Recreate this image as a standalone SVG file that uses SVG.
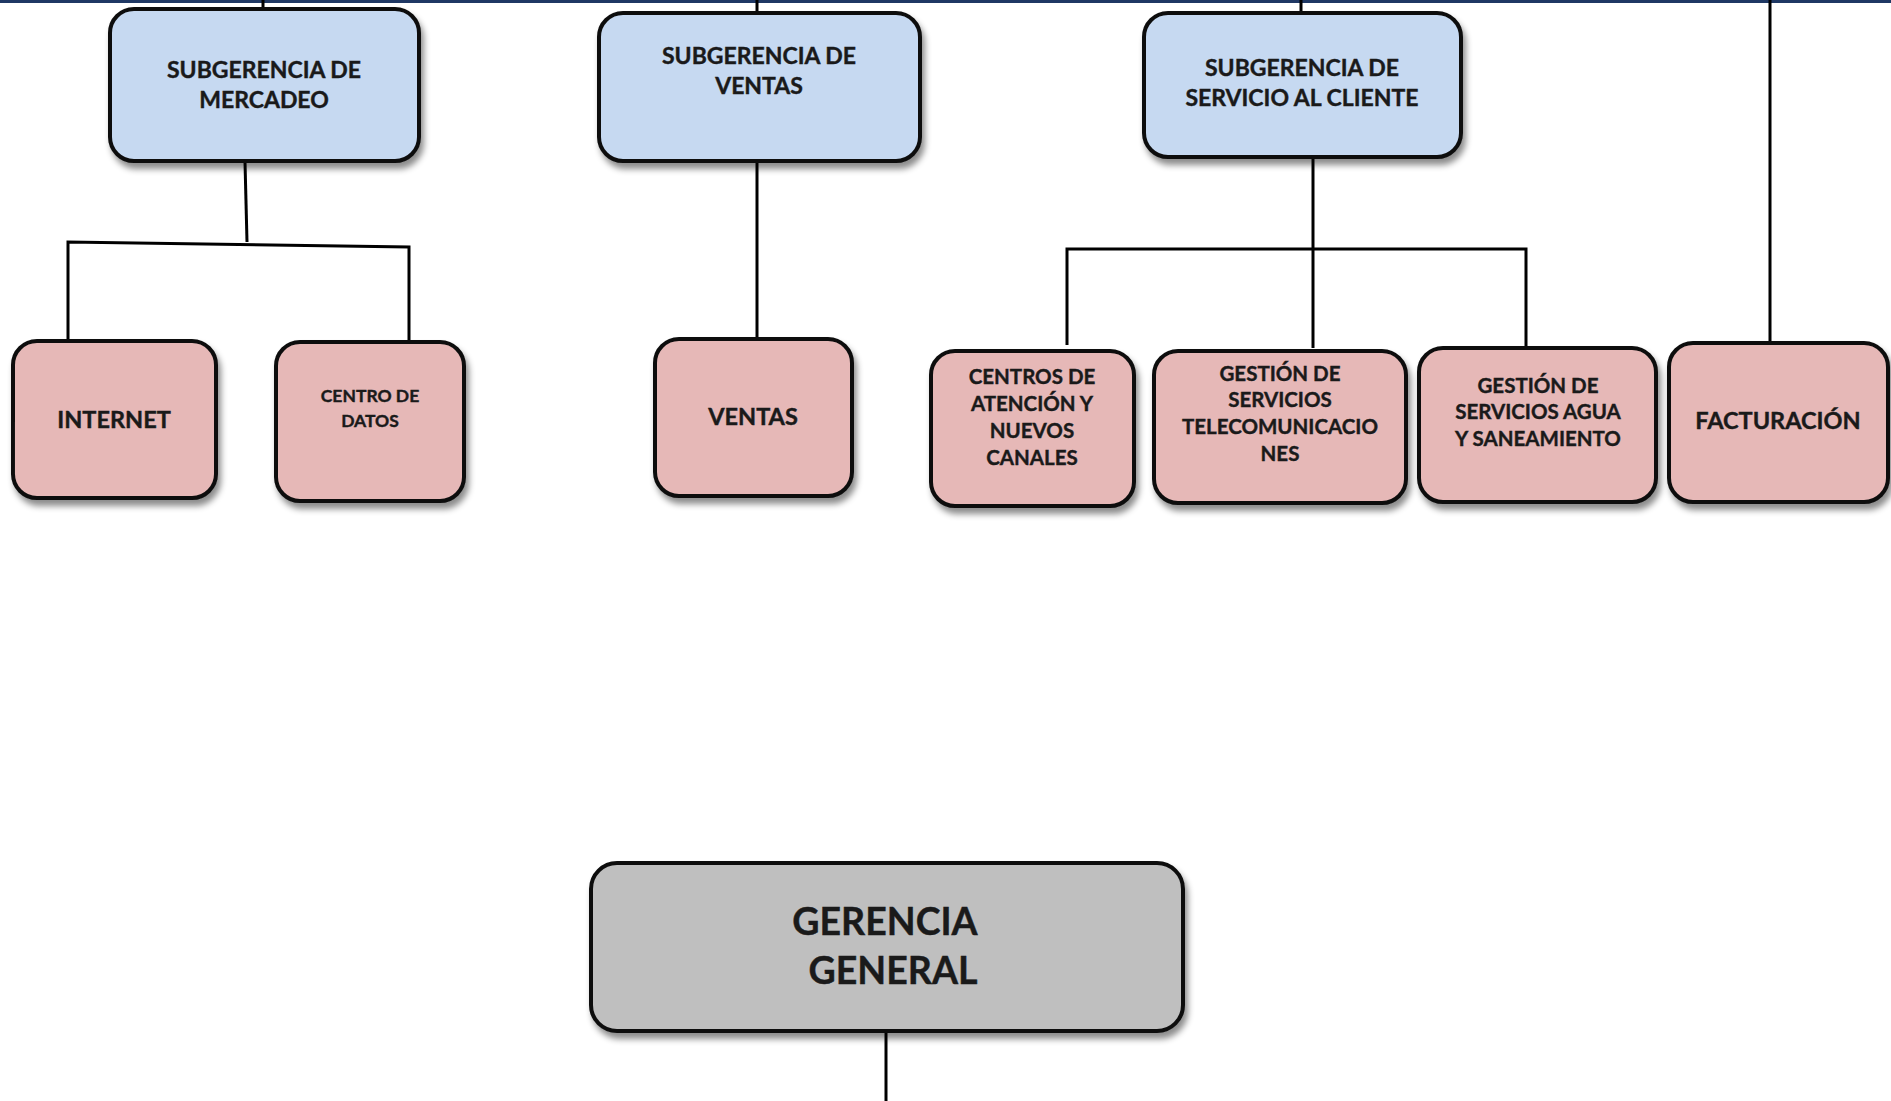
<svg xmlns="http://www.w3.org/2000/svg" width="1891" height="1101" viewBox="0 0 1891 1101">
<style>
.box{stroke:#111;stroke-width:4;filter:url(#sh)}
.blue{fill:#C6D9F1}
.pink{fill:#E6B8B7}
.gray{fill:#BFBFBF}
.t{font-family:Lato,"Open Sans","Liberation Sans",sans-serif;font-weight:bold;fill:#1a1a1a;stroke:#1a1a1a;stroke-width:0.4;text-anchor:middle}
.conn line,.conn polyline{stroke:#000;stroke-width:3;fill:none}
</style>
<defs>
<filter id="sh" x="-10%" y="-10%" width="130%" height="140%">
<feDropShadow dx="3" dy="6" stdDeviation="3" flood-color="#000" flood-opacity="0.45"/>
</filter>
</defs>
<rect x="0" y="0" width="1891" height="1101" fill="#fff"/>
<rect x="0" y="0" width="1891" height="3" fill="#1F3864"/>
<g id="connectors" class="conn">
<line x1="263" y1="0" x2="263" y2="9"/>
<line x1="757" y1="0" x2="757" y2="13"/>
<line x1="1301" y1="0" x2="1301" y2="13"/>
<line x1="1770" y1="0" x2="1770" y2="342"/>
<line x1="245" y1="162" x2="247" y2="242"/>
<polyline points="68,340 68,242 409,247 409,342"/>
<line x1="757" y1="162" x2="757" y2="340"/>
<line x1="1313" y1="158" x2="1313" y2="348"/>
<polyline points="1067,345 1067,249 1526,249 1526,348"/>
<line x1="886" y1="1032" x2="886" y2="1101"/>
</g>
<g id="mercadeo">
<rect class="box blue" x="110" y="9" width="309" height="152" rx="24"/>
<text class="t" x="264" y="78" font-size="23">SUBGERENCIA DE</text>
<text class="t" x="264" y="108" font-size="23">MERCADEO</text>
</g>
<g id="sub-ventas">
<rect class="box blue" x="599" y="13" width="321" height="148" rx="24"/>
<text class="t" x="759" y="64" font-size="23">SUBGERENCIA DE</text>
<text class="t" x="759" y="94" font-size="23">VENTAS</text>
</g>
<g id="servicio">
<rect class="box blue" x="1144" y="13" width="317" height="144" rx="24"/>
<text class="t" x="1302" y="76" font-size="23">SUBGERENCIA DE</text>
<text class="t" x="1302" y="106" font-size="23">SERVICIO AL CLIENTE</text>
</g>
<g id="internet">
<rect class="box pink" x="13" y="341" width="203" height="157" rx="24"/>
<text class="t" x="114" y="428" font-size="23.5">INTERNET</text>
</g>
<g id="centro-datos">
<rect class="box pink" x="276" y="342" width="188" height="159" rx="24"/>
<text class="t" x="370" y="402" font-size="17.5">CENTRO DE</text>
<text class="t" x="370" y="427" font-size="17.5">DATOS</text>
</g>
<g id="ventas">
<rect class="box pink" x="655" y="339" width="197" height="157" rx="24"/>
<text class="t" x="753" y="425" font-size="23.5">VENTAS</text>
</g>
<g id="centros-atencion">
<rect class="box pink" x="931" y="351" width="203" height="155" rx="24"/>
<text class="t" x="1032" y="384" font-size="20.5">CENTROS DE</text>
<text class="t" x="1032" y="411" font-size="20.5">ATENCIÓN Y</text>
<text class="t" x="1032" y="438" font-size="20.5">NUEVOS</text>
<text class="t" x="1032" y="465" font-size="20.5">CANALES</text>
</g>
<g id="telecom">
<rect class="box pink" x="1154" y="351" width="252" height="152" rx="24"/>
<text class="t" x="1280" y="381" font-size="20.5">GESTIÓN DE</text>
<text class="t" x="1280" y="407" font-size="20.5">SERVICIOS</text>
<text class="t" x="1280" y="434" font-size="20.5">TELECOMUNICACIO</text>
<text class="t" x="1280" y="461" font-size="20.5">NES</text>
</g>
<g id="agua">
<rect class="box pink" x="1419" y="348" width="237" height="154" rx="24"/>
<text class="t" x="1538" y="393" font-size="20.5">GESTIÓN DE</text>
<text class="t" x="1538" y="419" font-size="20.5">SERVICIOS AGUA</text>
<text class="t" x="1538" y="446" font-size="20.5">Y SANEAMIENTO</text>
</g>
<g id="facturacion">
<rect class="box pink" x="1669" y="343" width="219" height="159" rx="24"/>
<text class="t" x="1778" y="429" font-size="23.5">FACTURACIÓN</text>
</g>
<g id="gerencia">
<rect class="box gray" x="591" y="863" width="592" height="168" rx="26"/>
<text class="t" x="885" y="935" font-size="37.5">GERENCIA</text>
<text class="t" x="893" y="984" font-size="37.5">GENERAL</text>
</g>
</svg>
